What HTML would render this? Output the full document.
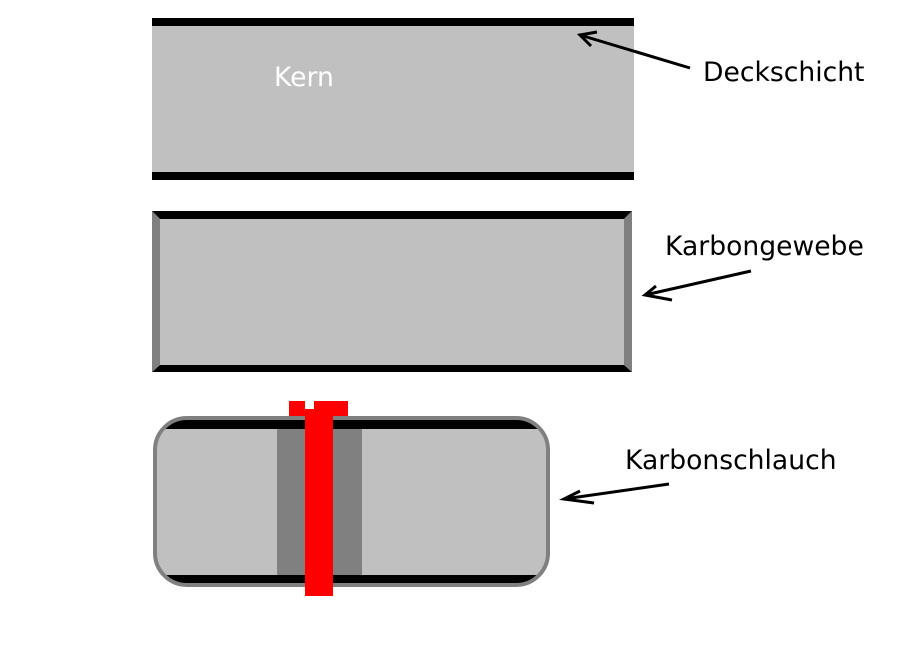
<!DOCTYPE html>
<html><head><style>
html,body{margin:0;padding:0;background:#fff;width:912px;height:648px;overflow:hidden}
text{font-family:"DejaVu Sans","Liberation Sans",sans-serif;font-size:26.6px}
</style></head><body>
<svg width="912" height="648" viewBox="0 0 912 648" xmlns="http://www.w3.org/2000/svg">
<rect x="152" y="18" width="482" height="161" fill="#c0c0c0"/>
<rect x="152" y="18" width="482" height="8" fill="#000"/>
<rect x="152" y="172" width="482" height="8" fill="#000"/>
<text x="274" y="86" fill="#fff">Kern</text>
<rect x="152" y="211" width="480" height="161" fill="#c0c0c0"/>
<polygon points="152,211 632,211 624,219 160,219" fill="#000"/>
<polygon points="160,365 624,365 632,372 152,372" fill="#000"/>
<polygon points="152,211 160,219 160,365 152,372" fill="#808080"/>
<polygon points="632,211 624,219 624,365 632,372" fill="#808080"/>
<defs><clipPath id="c"><rect x="155" y="418" width="393" height="167" rx="32"/></clipPath></defs>
<rect x="155" y="418" width="393" height="167" rx="32" fill="#c0c0c0"/>
<g clip-path="url(#c)">
<rect x="150" y="418" width="400" height="11" fill="#000"/>
<rect x="150" y="575" width="400" height="10" fill="#000"/>
<rect x="277" y="429" width="85" height="146" fill="#808080"/>
</g>
<rect x="155" y="418" width="393" height="167" rx="32" fill="none" stroke="#808080" stroke-width="4"/>
<rect x="289" y="401" width="59" height="15" fill="#f00"/>
<rect x="305" y="401" width="9" height="8" fill="#fff"/>
<rect x="305" y="409" width="28" height="187" fill="#f00"/>
<g stroke="#000" stroke-width="3" fill="none">
<line x1="690" y1="68" x2="580" y2="35"/>
<polyline points="597,32 580,35 591,46"/>
<line x1="751" y1="271" x2="645" y2="295"/>
<polyline points="656,286 645,295 672,300"/>
<line x1="669" y1="484" x2="564" y2="499"/>
<polyline points="580,491 564,499 594,503"/>
</g>
<text x="703" y="81" fill="#000">Deckschicht</text>
<text x="665" y="255" fill="#000">Karbongewebe</text>
<text x="625" y="469" fill="#000">Karbonschlauch</text>
</svg>
</body></html>
